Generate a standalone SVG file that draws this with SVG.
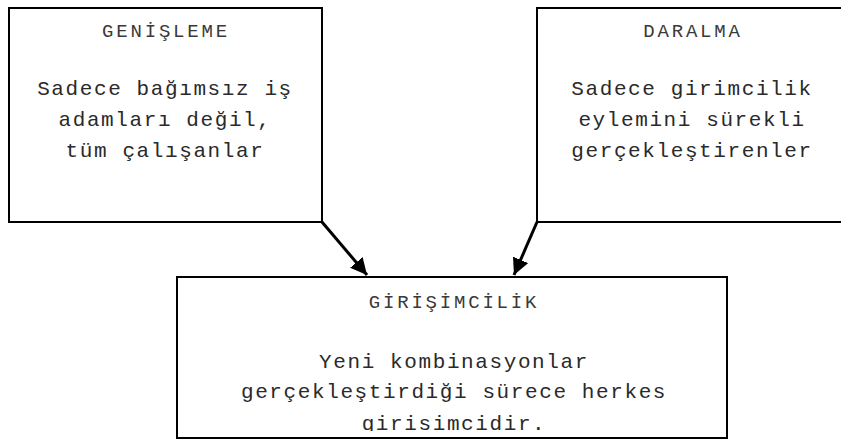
<svg xmlns="http://www.w3.org/2000/svg" width="841" height="442" viewBox="0 0 841 442">
  <style>
    .box { fill: #ffffff; stroke: #000000; stroke-width: 2; }
    .title { font-family: "Liberation Mono", "Courier New", monospace; font-size: 19px; letter-spacing: 2.8px; fill: #3a3a3a; text-anchor: middle; }
    .body { font-family: "Liberation Mono", "Courier New", monospace; font-size: 21px; letter-spacing: 1.6px; fill: #2a2a2a; text-anchor: middle; }
    .edge { stroke: #000000; stroke-width: 3; fill: none; }
  </style>
  <defs>
    <marker id="arrowhead" viewBox="0 0 10 10" refX="10" refY="5" markerWidth="5.5" markerHeight="5.5" orient="auto" markerUnits="strokeWidth">
      <path d="M0,0 L10,5 L0,10 z" fill="#000000"/>
    </marker>
    <!-- text area of the lower box; the last line runs past it -->
    <clipPath id="clip-result">
      <rect x="178" y="278" width="548" height="153"/>
    </clipPath>
  </defs>
  <rect width="841" height="442" fill="#ffffff"/>

  <g id="node-genisleme">
    <rect class="box" x="9" y="8" width="313" height="214"/>
    <text class="title" x="166" y="37">GENİŞLEME</text>
    <text class="body" x="165" y="95">Sadece bağımsız iş</text>
    <text class="body" x="165" y="126">adamları değil,</text>
    <text class="body" x="165" y="157">tüm çalışanlar</text>
  </g>

  <g id="node-daralma">
    <rect class="box" x="537" y="8" width="320" height="214"/>
    <text class="title" x="693" y="37">DARALMA</text>
    <text class="body" x="692" y="95">Sadece girimcilik</text>
    <text class="body" x="692" y="126">eylemini sürekli</text>
    <text class="body" x="692" y="157">gerçekleştirenler</text>
  </g>

  <g id="node-girisimcilik">
    <rect class="box" x="177" y="277" width="550" height="161"/>
    <g clip-path="url(#clip-result)">
      <text class="title" x="454" y="308">GİRİŞİMCİLİK</text>
      <text class="body" x="454" y="368">Yeni kombinasyonlar</text>
      <text class="body" x="454" y="398">gerçekleştirdiği sürece herkes</text>
      <text class="body" x="454" y="430">girisimcidir.</text>
    </g>
  </g>

  <g id="connectors">
    <line class="edge" x1="322" y1="222" x2="367" y2="275" marker-end="url(#arrowhead)"/>
    <line class="edge" x1="537" y1="222" x2="514" y2="275" marker-end="url(#arrowhead)"/>
  </g>
</svg>
